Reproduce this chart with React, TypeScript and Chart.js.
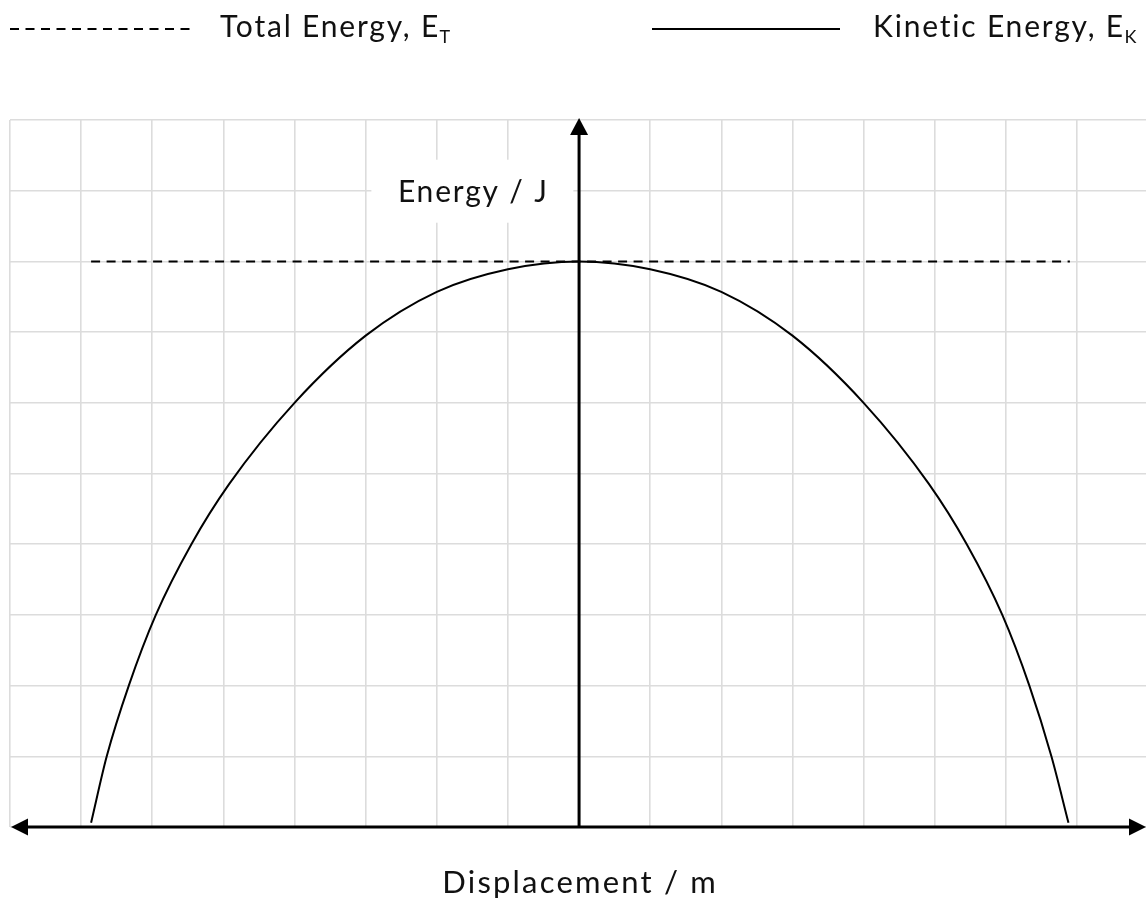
import React, { useEffect, useRef } from 'react';
import { Chart, registerables } from 'chart.js';

Chart.register(...registerables);

// ---- data ----
const xTicks = [-8, -7, -6, -5, -4, -3, -2, -1, 0, 1, 2, 3, 4, 5, 6, 7];
const yTicks = [0, 1, 2, 3, 4, 5, 6, 7, 8, 9, 10];

const displacement = [-6.86, -6.64, -6.33, -5.95, -5.45, -4.92, -4.0, -3.0, -2.0, -1.0, 0, 1.0, 2.0, 3.0, 4.0, 4.92, 5.45, 5.95, 6.33, 6.64, 6.88];
const kineticEnergy = [0.06, 1.0, 2.0, 3.0, 4.0, 4.85, 6.0, 6.95, 7.57, 7.89, 8.0, 7.89, 7.57, 6.95, 6.0, 4.85, 4.0, 3.0, 2.0, 1.0, 0.06];

const totalDisplacement = [-6.86, 6.9];
const totalEnergy = [8, 8];

const seriesLabels = ['Total Energy, E', 'Kinetic Energy, E'];
const seriesSubscripts = ['T', 'K'];
const yAxisTitle = 'Energy / J';
const xAxisTitle = 'Displacement / m';

const FONT = "Lato, 'Noto Sans', sans-serif";

function setFont(ctx: any, size: number, spacing: number) {
  ctx.font = `${size}px ${FONT}`;
  try { ctx.letterSpacing = `${spacing}px`; } catch (e) { /* ignore */ }
}

function centeredText(ctx: any, text: string, cx: number, baseline: number, size: number, spacing: number) {
  setFont(ctx, size, spacing);
  ctx.textAlign = 'left';
  ctx.textBaseline = 'alphabetic';
  const w = ctx.measureText(text).width - spacing;
  ctx.fillText(text, cx - w / 2, baseline);
}

const overlayPlugin = {
  id: 'overlay',
  beforeDatasetsDraw(chart: any) {
    const { ctx, scales } = chart;
    const x = scales.x, y = scales.y;
    // y-axis title with white backdrop
    const cx = x.getPixelForValue(-1.5);
    const cy = y.getPixelForValue(9);
    ctx.save();
    ctx.fillStyle = '#ffffff';
    ctx.fillRect(cx - 101, cy - 31, 202, 63);
    ctx.fillStyle = '#111111';
    centeredText(ctx, yAxisTitle, cx, cy + 11, 30, 1.8);
    ctx.restore();
  },
  afterDatasetsDraw(chart: any) {
    const { ctx, scales, chartArea } = chart;
    const x = scales.x, y = scales.y;
    const x0 = x.getPixelForValue(0);
    const y0 = y.getPixelForValue(0);
    const left = chartArea.left + 1;
    const right = chartArea.right;
    const top = chartArea.top - 2;
    ctx.save();
    ctx.strokeStyle = '#000';
    ctx.fillStyle = '#000';
    ctx.lineWidth = 3;
    // x axis
    ctx.beginPath();
    ctx.moveTo(left + 10, y0);
    ctx.lineTo(right - 10, y0);
    ctx.stroke();
    ctx.beginPath();
    ctx.moveTo(left, y0);
    ctx.lineTo(left + 17, y0 - 8.5);
    ctx.lineTo(left + 17, y0 + 8.5);
    ctx.closePath();
    ctx.fill();
    ctx.beginPath();
    ctx.moveTo(right, y0);
    ctx.lineTo(right - 17, y0 - 8.5);
    ctx.lineTo(right - 17, y0 + 8.5);
    ctx.closePath();
    ctx.fill();
    // y axis
    ctx.beginPath();
    ctx.moveTo(x0, y0);
    ctx.lineTo(x0, top + 10);
    ctx.stroke();
    ctx.beginPath();
    ctx.moveTo(x0, top);
    ctx.lineTo(x0 - 9, top + 17);
    ctx.lineTo(x0 + 9, top + 17);
    ctx.closePath();
    ctx.fill();

    // x-axis title
    ctx.fillStyle = '#111111';
    centeredText(ctx, xAxisTitle, x0, 893, 31, 2.2);

    // legend
    const items = [
      { x1: 10, x2: 193, tx: 220, dash: [9, 6.5] },
      { x1: 652, x2: 840, tx: 873, dash: [] as number[] },
    ];
    items.forEach((it, i) => {
      ctx.save();
      ctx.strokeStyle = '#000';
      ctx.lineWidth = 2;
      ctx.setLineDash(it.dash);
      ctx.beginPath();
      ctx.moveTo(it.x1, 29);
      ctx.lineTo(it.x2, 29);
      ctx.stroke();
      ctx.restore();
      setFont(ctx, 30, 1.8);
      ctx.textAlign = 'left';
      ctx.textBaseline = 'alphabetic';
      ctx.fillStyle = '#111111';
      ctx.fillText(seriesLabels[i], it.tx, 37);
      const w = ctx.measureText(seriesLabels[i]).width;
      setFont(ctx, 18, 0);
      ctx.fillText(seriesSubscripts[i], it.tx + w - 0.5, 43);
    });
    ctx.restore();
  },
};

export default function App() {
  const ref = useRef<HTMLCanvasElement>(null);
  useEffect(() => {
    document.body.style.margin = '0';
    document.body.style.overflow = 'hidden';
    const canvas = ref.current!;
    const chart = new Chart(canvas, {
      type: 'line',
      data: {
        datasets: [
          {
            label: seriesLabels[0] + seriesSubscripts[0],
            data: totalDisplacement.map((v, i) => ({ x: v, y: totalEnergy[i] })),
            borderColor: '#000',
            borderWidth: 2,
            borderDash: [9, 6.5],
            pointRadius: 0,
            fill: false,
          },
          {
            label: seriesLabels[1] + seriesSubscripts[1],
            data: displacement.map((v, i) => ({ x: v, y: kineticEnergy[i] })),
            borderColor: '#000',
            borderWidth: 2,
            pointRadius: 0,
            cubicInterpolationMode: 'monotone',
            fill: false,
          },
        ],
      },
      options: {
        responsive: false,
        animation: false,
        events: [],
        layout: { padding: { left: 10, right: 0, top: 120, bottom: 71 } },
        plugins: { legend: { display: false }, tooltip: { enabled: false }, title: { display: false } },
        scales: {
          x: {
            type: 'linear',
            min: -8,
            max: 7.97,
            afterBuildTicks: (s: any) => { s.ticks = xTicks.map((v) => ({ value: v })); },
            afterFit: (s: any) => { s.height = 0; },
            ticks: { display: false },
            border: { display: false },
            grid: { color: '#dcdcdc', lineWidth: 1.6, drawTicks: false },
          },
          y: {
            type: 'linear',
            min: 0,
            max: 10,
            afterBuildTicks: (s: any) => { s.ticks = yTicks.map((v) => ({ value: v })); },
            afterFit: (s: any) => { s.width = 0; },
            ticks: { display: false },
            border: { display: false },
            grid: { color: '#dcdcdc', lineWidth: 1.6, drawTicks: false },
          },
        },
      },
      plugins: [overlayPlugin],
    } as any);
    return () => chart.destroy();
  }, []);
  return <canvas ref={ref} width={1146} height={898} style={{ display: 'block' }} />;
}
